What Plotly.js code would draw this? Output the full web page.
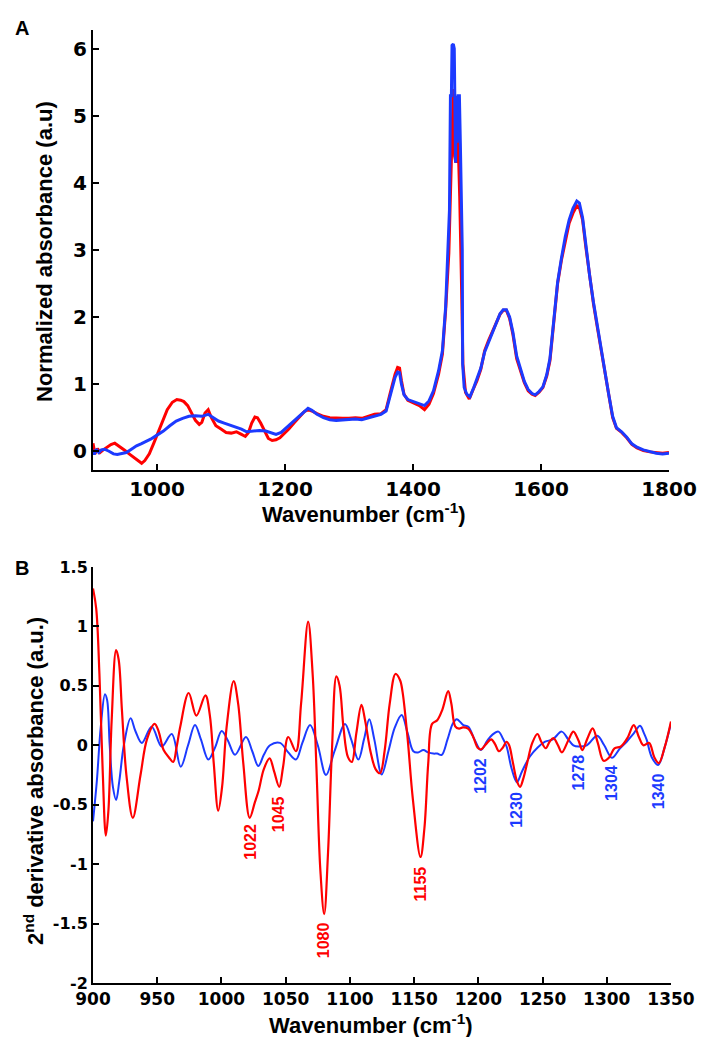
<!DOCTYPE html>
<html>
<head>
<meta charset="utf-8">
<script src="https://cdn.plot.ly/plotly-3.0.1.min.js"></script>
<style>
  html, body { margin: 0; padding: 0; background: #fff; }
  #chart { width: 702px; height: 1037px; }
</style>
</head>
<body>
<div id="chart"></div>
<script>
// ---- Panel A: normalized absorbance spectra ----
const wnA_red = [900,903,907,911,916,922,928,934,942,950,
  958,966,972,976,981,988,995,1000,1008,1016,
  1024,1031,1037,1042,1048,1054,1060,1066,1070,1075,
  1080,1085,1092,1100,1108,1116,1124,1132,1138,1143,
  1148,1153,1157,1162,1168,1174,1180,1186,1192,1198,
  1206,1214,1222,1230,1236,1242,1250,1260,1270,1280,
  1290,1300,1310,1320,1330,1340,1350,1358,1364,1368,
  1372,1376,1379,1382,1386,1392,1400,1410,1418,1425,
  1432,1440,1446,1451,1456,1458.5,1461,1463,1465,1467,
  1470,1473,1476,1478,1482,1488,1494,1500,1506,1512,
  1518,1524,1530,1536,1541,1546,1551,1556,1562,1568,
  1574,1580,1586,1591,1597,1603,1609,1614,1620,1626,
  1632,1638,1644,1650,1656,1660,1665,1670,1676,1682,
  1688,1694,1700,1706,1712,1718,1726,1734,1742,1750,
  1760,1770,1780,1790,1800];
const absA_red = [0.12,-0.04,0.04,-0.02,0.02,0.06,0.10,0.12,0.07,0.01,
  -0.05,-0.11,-0.16,-0.18,-0.14,-0.04,0.12,0.24,0.42,0.62,
  0.73,0.77,0.76,0.74,0.68,0.58,0.46,0.40,0.43,0.57,
  0.62,0.50,0.38,0.33,0.28,0.27,0.29,0.25,0.22,0.28,
  0.42,0.51,0.50,0.42,0.30,0.19,0.16,0.17,0.20,0.25,
  0.33,0.42,0.50,0.59,0.62,0.60,0.56,0.52,0.50,0.49,
  0.49,0.49,0.50,0.49,0.52,0.55,0.56,0.62,0.85,1.02,
  1.15,1.25,1.24,1.05,0.85,0.76,0.72,0.68,0.62,0.70,
  0.86,1.15,1.45,2.1,2.95,4.0,5.0,5.4,4.4,4.3,
  4.8,3.8,2.4,1.3,0.88,0.78,0.92,1.05,1.22,1.50,
  1.65,1.78,1.92,2.04,2.10,2.10,1.98,1.75,1.38,1.20,
  1.02,0.90,0.85,0.83,0.88,0.95,1.12,1.35,1.95,2.50,
  2.85,3.15,3.40,3.55,3.66,3.63,3.45,3.05,2.60,2.20,
  1.85,1.50,1.15,0.82,0.50,0.34,0.28,0.20,0.10,0.05,
  0.01,-0.01,-0.02,-0.03,-0.02];

const wnA_blue = [900,902,905,909,913,918,925,932,938,945,
  952,960,968,975,982,990,1000,1010,1020,1030,
  1040,1050,1060,1070,1080,1088,1096,1105,1115,1124,
  1132,1140,1150,1160,1170,1178,1186,1194,1202,1212,
  1222,1230,1236,1242,1250,1260,1270,1280,1290,1300,
  1310,1320,1330,1340,1350,1358,1364,1368,1372,1376,
  1379,1382,1386,1392,1400,1410,1418,1425,1432,1440,
  1446,1451,1455,1457,1458.5,1460,1461,1463,1464.5,1465.5,
  1466.5,1467.5,1469,1470.5,1472.5,1474,1475.5,1477,1477.6,1480,
  1484,1489,1495,1500,1506,1512,1518,1524,1530,1536,
  1541,1546,1551,1556,1562,1568,1574,1580,1586,1591,
  1597,1603,1609,1614,1620,1626,1632,1638,1644,1650,
  1656,1660,1665,1670,1676,1682,1688,1694,1700,1706,
  1712,1718,1726,1734,1742,1750,1760,1770,1780,1790,
  1800];
const absA_blue = [0.02,-0.05,0.03,-0.02,0.02,0.03,0.0,-0.04,-0.05,-0.04,
  -0.02,0.03,0.08,0.11,0.14,0.18,0.24,0.30,0.38,0.45,
  0.49,0.52,0.53,0.52,0.55,0.50,0.45,0.42,0.39,0.36,
  0.33,0.29,0.30,0.31,0.30,0.28,0.25,0.28,0.35,0.44,
  0.53,0.60,0.64,0.61,0.55,0.50,0.47,0.46,0.47,0.48,
  0.48,0.47,0.50,0.53,0.55,0.60,0.80,0.97,1.10,1.18,
  1.17,1.00,0.84,0.77,0.74,0.71,0.68,0.75,0.90,1.20,
  1.50,2.15,3.05,3.6,5.3,5.3,6.05,6.07,6.0,5.2,
  4.3,5.3,4.6,5.3,5.3,4.6,3.8,3.0,1.3,0.95,
  0.85,0.81,0.95,1.08,1.24,1.48,1.62,1.76,1.90,2.05,
  2.11,2.11,2.00,1.78,1.42,1.22,1.04,0.92,0.86,0.84,
  0.89,0.96,1.14,1.38,1.98,2.52,2.88,3.2,3.45,3.62,
  3.73,3.70,3.48,3.08,2.62,2.22,1.86,1.52,1.16,0.84,
  0.52,0.35,0.29,0.21,0.11,0.06,0.02,-0.01,-0.03,-0.04,
  -0.03];

// ---- Panel B: second-derivative spectra ----
const wnB_red = [900,902.5,905,907.5,910,912,914.5,918,920,922.5,
  926,931,937,942,948,951,955,959,962.5,965,
  968,974.5,980.5,987.5,991,994,997.5,1000.5,1004,1009.5,
  1013,1017,1022,1026,1029,1033,1037.5,1041,1045,1048,
  1052,1058,1062,1067.5,1071,1074,1077,1080,1083,1086,
  1089.5,1092,1095,1098.5,1101.5,1105,1109,1112,1116,1120,
  1123.5,1127,1131,1135.5,1139,1141,1145,1149,1155,1158,
  1161,1164,1168,1172,1176.5,1179,1182,1185,1188,1192,
  1196,1199.5,1202,1206,1210,1213,1216,1219,1222,1224,
  1227,1230,1232.5,1235,1238,1242,1246,1249,1252.5,1255.5,
  1258.5,1262,1265,1270,1274,1278,1281,1285,1289,1293,
  1297.5,1302,1306,1311,1316,1321,1325,1328.5,1333,1337,
  1340.5,1345,1350];
const derivB_red = [1.32,1.15,0.6,-0.2,-0.76,-0.55,0.2,0.80,0.72,0.30,
  -0.25,-0.61,-0.25,0.05,0.18,0.12,-0.04,-0.10,-0.14,-0.02,
  0.16,0.44,0.25,0.42,0.25,-0.15,-0.55,-0.35,0.15,0.54,
  0.35,-0.15,-0.61,-0.48,-0.38,-0.20,-0.11,-0.22,-0.35,-0.18,
  0.07,-0.05,0.35,1.04,0.60,-0.20,-1.05,-1.42,-0.9,-0.05,
  0.58,0.50,0.15,-0.10,-0.14,0.10,0.34,0.20,-0.05,-0.20,
  -0.235,-0.05,0.35,0.60,0.55,0.45,0.05,-0.45,-0.94,-0.70,
  -0.15,0.18,0.21,0.30,0.455,0.35,0.16,0.14,0.15,0.14,
  0.07,-0.02,-0.035,0.01,0.05,0.01,-0.05,-0.02,0.03,0.0,
  -0.15,-0.30,-0.35,-0.28,-0.15,0.02,0.095,0.03,-0.025,0.03,
  0.06,0.0,-0.06,0.04,0.115,0.04,-0.04,0.06,0.143,0.02,
  -0.13,-0.10,-0.025,-0.01,0.06,0.17,0.07,0.0,0.02,-0.10,
  -0.15,-0.02,0.2];

const wnB_blue = [900,903,906,909.3,911,913,915.5,918,920.5,924,
  929.3,933,938,945.7,953.5,961.3,968.3,974,979.4,984,
  989.8,995,1000.2,1005,1010.6,1019.1,1024,1028.7,1033,1037.8,
  1045.6,1052,1058,1063,1069,1075,1081.4,1088,1096.2,1101,
  1106.6,1111,1115.1,1119,1124.8,1130,1135,1140.3,1145,1149.4,
  1153,1157.2,1161,1165,1168,1171.5,1176,1180,1183.2,1188.3,
  1192.2,1197,1202,1207,1211,1215.6,1219,1222,1226,1230,
  1234,1240,1246,1252,1258,1264.9,1270,1274,1278,1284.4,
  1292.6,1298,1304,1310,1315.5,1321,1325.9,1329,1331.1,1335,
  1340,1345,1350];
const derivB_blue = [-0.64,-0.30,0.15,0.43,0.38,0.0,-0.35,-0.46,-0.30,0.0,
  0.227,0.12,0.02,0.157,-0.01,0.095,-0.18,0.0,0.17,0.05,
  -0.12,-0.02,0.12,0.04,-0.08,0.07,-0.05,-0.175,-0.08,0.0,
  0.02,-0.06,-0.12,0.02,0.17,0.0,-0.25,-0.05,0.18,0.05,
  -0.12,0.05,0.22,0.05,-0.245,-0.05,0.15,0.255,0.10,-0.05,
  -0.06,-0.04,-0.06,-0.07,-0.07,-0.08,0.05,0.18,0.22,0.17,
  0.157,0.05,-0.04,0.04,0.09,0.115,0.06,-0.01,-0.20,-0.31,
  -0.22,-0.096,-0.02,0.03,0.05,0.115,0.05,0.0,-0.01,0.0,
  0.08,0.0,-0.105,-0.03,0.03,0.10,0.165,0.10,0.045,-0.10,
  -0.165,-0.02,0.185];

// Band assignments marked on panel B (wavenumber and label height)
const bandsRed = [1022, 1045, 1080, 1155];
const bandsRedY = [-0.814, -0.578, -1.638, -1.167];
const bandsBlue = [1202, 1230, 1278, 1304, 1340];
const bandsBlueY = [-0.258, -0.544, -0.233, -0.317, -0.385];

// Tick labels
const ticksA_x = [1000, 1200, 1400, 1600, 1800];
const ticksA_y = [0, 1, 2, 3, 4, 5, 6];
const ticksB_x = [900, 950, 1000, 1050, 1100, 1150, 1200, 1250, 1300, 1350];
const ticksB_y = [-2, -1.5, -1, -0.5, 0, 0.5, 1, 1.5];
const ticksB_yText = ['-2', '-1.5', '-1', '-0.5', '0', '0.5', '1', '1.5'];

const RED = 'rgb(255,0,0)';
const BLUE = 'rgb(28,58,255)';
const TICKFONT = 'DejaVu Sans, sans-serif';
const TITLEFONT = 'Liberation Sans, Arial, sans-serif';

const traces = [
  { x: wnA_red, y: absA_red, xaxis: 'x', yaxis: 'y', mode: 'lines',
    line: { color: RED, width: 3 }, hoverinfo: 'skip' },
  { x: wnA_blue, y: absA_blue, xaxis: 'x', yaxis: 'y', mode: 'lines',
    line: { color: BLUE, width: 3 }, hoverinfo: 'skip' },
  { x: wnB_blue, y: derivB_blue, xaxis: 'x2', yaxis: 'y2', mode: 'lines',
    line: { color: BLUE, width: 2, shape: 'spline', smoothing: 1 }, hoverinfo: 'skip' },
  { x: wnB_red, y: derivB_red, xaxis: 'x2', yaxis: 'y2', mode: 'lines',
    line: { color: RED, width: 2.2, shape: 'spline', smoothing: 1 }, hoverinfo: 'skip' }
];

function axisBase(extra) {
  return Object.assign({
    showline: true, linecolor: '#000', linewidth: 2,
    ticks: 'inside', ticklen: 6, tickwidth: 2, tickcolor: '#000',
    showgrid: false, zeroline: false, mirror: false,
    fixedrange: true
  }, extra);
}

const layout = {
  width: 702, height: 1037,
  margin: { l: 93, r: 31, t: 30, b: 54 },
  paper_bgcolor: '#fff', plot_bgcolor: '#fff',
  showlegend: false,
  xaxis: axisBase({
    domain: [0, 0.9965], anchor: 'y', range: [900, 1800],
    tickvals: ticksA_x,
    tickfont: { family: TICKFONT, size: 20, weight: 'bold', color: '#000' }
  }),
  yaxis: axisBase({
    domain: [0.5383, 1], anchor: 'x', range: [-0.28, 6.28],
    tickvals: ticksA_y,
    tickfont: { family: TICKFONT, size: 20, weight: 'bold', color: '#000' }
  }),
  xaxis2: axisBase({
    domain: [0, 1], anchor: 'y2', range: [900, 1350],
    tickvals: ticksB_x,
    tickfont: { family: TICKFONT, size: 17, weight: 'bold', color: '#000' }
  }),
  yaxis2: axisBase({
    domain: [0, 0.4365], anchor: 'x2', range: [-2, 1.5],
    tickvals: ticksB_y, ticktext: ticksB_yText,
    tickfont: { family: TICKFONT, size: 16, weight: 'bold', color: '#000' }
  }),
  annotations: []
};

const titleFont = { family: TITLEFONT, size: 22, weight: 'bold', color: '#000' };
const ann = layout.annotations;

// Axis titles and panel letters
ann.push({ xref: 'paper', yref: 'paper', x: 0.4689, y: 0.4932, showarrow: false,
  xanchor: 'center', yanchor: 'middle', text: 'Wavenumber (cm<sup>-1</sup>)', font: titleFont });
ann.push({ xref: 'paper', yref: 'paper', x: -0.0848, y: 0.7681, showarrow: false,
  xanchor: 'center', yanchor: 'middle', textangle: -90,
  text: 'Normalized absorbance (a.u)', font: titleFont });
ann.push({ xref: 'paper', yref: 'paper', x: 0.4818, y: -0.043, showarrow: false,
  xanchor: 'center', yanchor: 'middle', text: 'Wavenumber (cm<sup>-1</sup>)', font: titleFont });
ann.push({ xref: 'paper', yref: 'paper', x: -0.102, y: 0.212, showarrow: false,
  xanchor: 'center', yanchor: 'middle', textangle: -90,
  text: '2<sup>nd</sup> derivative absorbance (a.u.)', font: titleFont });
ann.push({ xref: 'paper', yref: 'paper', x: -0.1228, y: 1.0021, showarrow: false,
  xanchor: 'center', yanchor: 'middle', text: 'A', font: { family: TITLEFONT, size: 20, weight: 'bold', color: '#000' } });
ann.push({ xref: 'paper', yref: 'paper', x: -0.1228, y: 0.4355, showarrow: false,
  xanchor: 'center', yanchor: 'middle', text: 'B', font: { family: TITLEFONT, size: 20, weight: 'bold', color: '#000' } });

// Band labels, rotated
bandsRed.forEach((wn, i) => ann.push({
  xref: 'x2', yref: 'y2', x: wn, y: bandsRedY[i], showarrow: false, textangle: -90,
  xanchor: 'center', yanchor: 'middle', text: String(wn),
  font: { family: TITLEFONT, size: 16, weight: 'bold', color: RED }
}));
bandsBlue.forEach((wn, i) => ann.push({
  xref: 'x2', yref: 'y2', x: wn, y: bandsBlueY[i], showarrow: false, textangle: -90,
  xanchor: 'center', yanchor: 'middle', text: String(wn),
  font: { family: TITLEFONT, size: 16, weight: 'bold', color: BLUE }
}));

Plotly.newPlot('chart', traces, layout, { staticPlot: true, displayModeBar: false });
</script>
</body>
</html>
